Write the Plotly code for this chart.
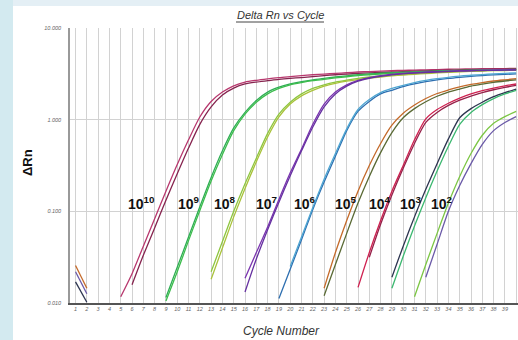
import math
import plotly.graph_objects as go

# ---------------- data ----------------
cycles = list(range(1, 41))
x_tick_labels = [str(c) for c in cycles]
y_tick_vals = [0.01, 0.1, 1, 10]
y_tick_text = ["0.010", "0.100", "1.000", "10.000"]

def series(first_cycle, values, lead=None):
    """Place values (starting at first_cycle) on the 40-cycle grid; lead = values at cycles 1-2."""
    out = [None] * 40
    if lead:
        for i, v in enumerate(lead):
            out[i] = v
    for i, v in enumerate(values):
        out[first_cycle - 1 + i] = v
    return out

# 10^10
s10_a = series(5, [0.0117, 0.0209, 0.0417, 0.0832, 0.166, 0.324, 0.603, 1.07, 1.58, 2.00, 2.34, 2.57,
                   2.69, 2.79, 2.88, 2.95, 3.02, 3.09, 3.14, 3.20, 3.25, 3.31, 3.35, 3.39, 3.43, 3.45,
                   3.47, 3.50, 3.52, 3.55, 3.56, 3.58, 3.60, 3.61, 3.61, 3.63])
s10_b = series(6, [0.0158, 0.0331, 0.066, 0.132, 0.257, 0.49, 0.89, 1.38, 1.86, 2.21, 2.45, 2.57, 2.66,
                   2.75, 2.82, 2.88, 2.95, 3.02, 3.09, 3.14, 3.20, 3.24, 3.27, 3.31, 3.35, 3.38, 3.41,
                   3.44, 3.47, 3.49, 3.52, 3.53, 3.55, 3.56, 3.58])
# 10^9
s9_a = series(9, [0.0115, 0.0245, 0.0525, 0.112, 0.234, 0.457, 0.813, 1.20, 1.62, 2.00, 2.26, 2.45,
                  2.60, 2.72, 2.82, 2.92, 3.01, 3.09, 3.16, 3.21, 3.26, 3.30, 3.33, 3.37, 3.40, 3.43,
                  3.45, 3.47, 3.49, 3.51, 3.52, 3.54])
s9_b = series(9, [0.0105, 0.0219, 0.0479, 0.102, 0.214, 0.417, 0.759, 1.15, 1.55, 1.91, 2.19, 2.40,
                  2.54, 2.66, 2.75, 2.85, 2.94, 3.02, 3.09, 3.15, 3.20, 3.24, 3.28, 3.32, 3.35, 3.38,
                  3.40, 3.43, 3.45, 3.47, 3.48, 3.50])
# 10^8
s8_a = series(13, [0.0219, 0.0468, 0.100, 0.200, 0.380, 0.708, 1.15, 1.55, 1.91, 2.19, 2.40, 2.57,
                   2.70, 2.82, 2.92, 3.01, 3.08, 3.14, 3.20, 3.25, 3.30, 3.33, 3.37, 3.40, 3.44, 3.46,
                   3.48, 3.51])
s8_b = series(13, [0.0182, 0.0398, 0.087, 0.178, 0.347, 0.646, 1.07, 1.48, 1.82, 2.09, 2.32, 2.49,
                   2.63, 2.74, 2.84, 2.92, 3.00, 3.07, 3.13, 3.18, 3.24, 3.28, 3.32, 3.36, 3.39, 3.42,
                   3.44, 3.47])
# 10^7
s7_a = series(16, [0.0186, 0.0355, 0.0676, 0.135, 0.263, 0.479, 0.891, 1.48, 2.00, 2.40, 2.69, 2.88,
                   3.02, 3.13, 3.20, 3.26, 3.31, 3.35, 3.39, 3.42, 3.44, 3.47, 3.48, 3.50, 3.52])
s7_b = series(16, [0.0132, 0.0302, 0.0631, 0.126, 0.245, 0.457, 0.832, 1.38, 1.91, 2.32, 2.63, 2.83,
                   2.97, 3.08, 3.16, 3.22, 3.27, 3.31, 3.35, 3.38, 3.41, 3.44, 3.45, 3.47, 3.48])
# 10^6
s6_a = series(19, [0.0112, 0.0234, 0.049, 0.105, 0.209, 0.398, 0.759, 1.23, 1.58, 1.91, 2.09, 2.29,
                   2.45, 2.60, 2.72, 2.82, 2.90, 2.97, 3.03, 3.08, 3.12, 3.16])
s6_b = series(20, [0.0251, 0.0525, 0.110, 0.224, 0.427, 0.794, 1.29, 1.66, 1.97, 2.19, 2.37, 2.54,
                   2.68, 2.80, 2.90, 2.98, 3.05, 3.10, 3.16, 3.20, 3.24])
# 10^5
s5_a = series(23, [0.0145, 0.0355, 0.0794, 0.166, 0.316, 0.55, 0.871, 1.175, 1.445, 1.70, 1.93, 2.11,
                   2.28, 2.42, 2.54, 2.64, 2.72, 2.80], lead=[0.0257, 0.0145])
s5_b = series(23, [0.0120, 0.0263, 0.0575, 0.123, 0.240, 0.437, 0.724, 1.05, 1.32, 1.57, 1.80, 2.00,
                   2.16, 2.32, 2.44, 2.55, 2.64, 2.72])
# 10^4
s4_a = series(26, [0.0148, 0.0355, 0.0794, 0.166, 0.316, 0.603, 1.02, 1.29, 1.51, 1.72, 1.91, 2.07,
                   2.21, 2.34, 2.45])
s4_b = series(27, [0.0316, 0.0724, 0.151, 0.295, 0.55, 0.933, 1.20, 1.43, 1.63, 1.81, 1.97, 2.12,
                   2.25, 2.36])
# 10^3
s3_a = series(29, [0.0191, 0.0417, 0.087, 0.174, 0.331, 0.617, 1.05, 1.32, 1.55, 1.78, 1.97, 2.16],
              lead=[0.0170, 0.0102])
s3_b = series(29, [0.0145, 0.0324, 0.0692, 0.141, 0.275, 0.513, 0.891, 1.20, 1.46, 1.70, 1.91, 2.09])
# 10^2
s2_a = series(31, [0.0117, 0.0263, 0.0575, 0.123, 0.240, 0.427, 0.676, 0.912, 1.08, 1.23])
s2_b = series(32, [0.0191, 0.0437, 0.100, 0.191, 0.331, 0.537, 0.759, 0.933, 1.08],
              lead=[0.0219, 0.0126])

curves = [s10_a, s10_b, s9_a, s9_b, s8_a, s8_b, s7_a, s7_b, s6_a, s6_b,
          s5_a, s5_b, s4_a, s4_b, s3_a, s3_b, s2_a, s2_b]
curve_colors = ["#b8386e", "#86244f", "#2fae55", "#3cbc4c", "#8dc63f", "#a9c23b",
                "#7b35b0", "#6530a0", "#2e6fb0", "#4fa6d2", "#c46a2a", "#5a6a35",
                "#cf2150", "#962049", "#2d3550", "#3cb870", "#7cc644", "#6b5aa8"]

dilution_labels = ["10<sup>10</sup>", "10<sup>9</sup>", "10<sup>8</sup>", "10<sup>7</sup>",
                   "10<sup>6</sup>", "10<sup>5</sup>", "10<sup>4</sup>", "10<sup>3</sup>",
                   "10<sup>2</sup>"]
label_cycle = [6.84, 11.0, 14.27, 17.95, 21.3, 24.9, 27.95, 30.7, 33.4]
label_level = [0.122] * 9

# ---------------- figure ----------------
fig = go.Figure()
for ys, col in zip(curves, curve_colors):
    fig.add_trace(go.Scatter(x=cycles, y=ys, mode="lines",
                             line=dict(color=col, width=1.3, shape="spline", smoothing=0.7),
                             connectgaps=False, showlegend=False, hoverinfo="skip"))

for txt, cx, lv in zip(dilution_labels, label_cycle, label_level):
    fig.add_annotation(x=cx, y=math.log10(lv), xref="x", yref="y", text="<b>%s</b>" % txt,
                       showarrow=False,
                       font=dict(family="Liberation Sans, Arial", size=14, color="#111111"),
                       xanchor="center", yanchor="middle")

W, H = 518, 340
L, R, T, B = 70, 0, 28, 37
pw, ph = W - L - R, H - T - B

def px_x(px):
    return (px - L) / pw

def px_y(py):
    return (H - B - py) / ph

# background decoration (blue tint outside the white panel)
fig.add_shape(type="rect", xref="paper", yref="paper", x0=px_x(0), x1=px_x(13), y0=px_y(H), y1=px_y(0),
              fillcolor="#d3eaf0", line=dict(width=0), layer="below")
fig.add_shape(type="rect", xref="paper", yref="paper", x0=px_x(13), x1=px_x(W), y0=px_y(6), y1=px_y(0),
              fillcolor="#e4eff5", line=dict(width=0), layer="below")

fig.add_annotation(x=px_x(280), y=px_y(15), xref="paper", yref="paper", showarrow=False,
                   text="<i>Delta Rn vs Cycle</i>", xanchor="center", yanchor="middle",
                   font=dict(family="Liberation Sans, Arial", size=11, color="#333333"))
fig.add_shape(type="line", xref="paper", yref="paper", x0=px_x(236), x1=px_x(324),
              y0=px_y(22), y1=px_y(22), line=dict(color="#444444", width=1))
fig.add_annotation(x=px_x(27), y=px_y(163), xref="paper", yref="paper", showarrow=False,
                   text="<b>ΔRn</b>", textangle=-90, xanchor="center", yanchor="middle",
                   font=dict(family="Liberation Sans, Arial", size=13, color="#111111"))
fig.add_annotation(x=px_x(281), y=px_y(331), xref="paper", yref="paper", showarrow=False,
                   text="<i>Cycle Number</i>", xanchor="center", yanchor="middle",
                   font=dict(family="Liberation Sans, Arial", size=12, color="#333333"))

fig.update_xaxes(range=[0.51, 40.16], tickmode="array", tickvals=cycles,
                 ticktext=["<i>%s</i>" % t for t in x_tick_labels],
                 tickfont=dict(family="Liberation Sans, Arial", size=5.5, color="#666666"),
                 showgrid=True, gridcolor="#d2d2d2", gridwidth=1,
                 showline=True, linecolor="#555555", linewidth=1.5,
                 ticks="", zeroline=False, fixedrange=True)
fig.update_yaxes(type="log", range=[-2, 1], tickmode="array", tickvals=y_tick_vals,
                 ticktext=["<i>%s</i>" % t for t in y_tick_text],
                 tickfont=dict(family="Liberation Sans, Arial", size=5.5, color="#666666"),
                 showgrid=True, gridcolor="#d2d2d2", gridwidth=1,
                 showline=True, linecolor="#999999", linewidth=1.5,
                 ticks="", ticklabelstandoff=6, zeroline=False, fixedrange=True)

fig.update_layout(width=W, height=H, margin=dict(l=L, r=R, t=T, b=B),
                  paper_bgcolor="white", plot_bgcolor="white", showlegend=False)

fig.write_html("out.html", config={"displayModeBar": False},
               post_script="document.body.style.margin='0';document.body.style.overflow='hidden';")
